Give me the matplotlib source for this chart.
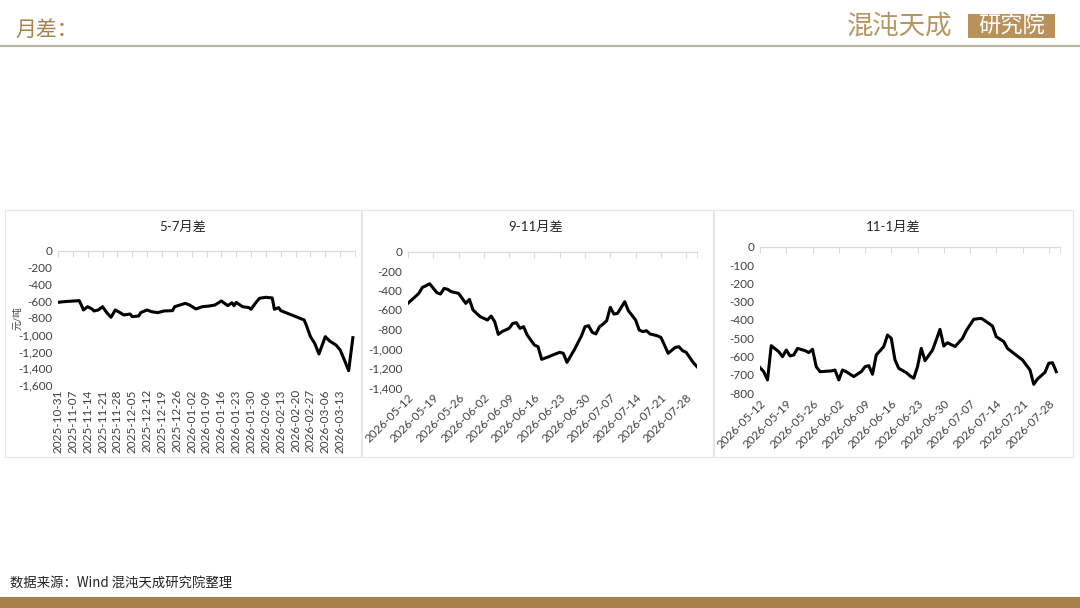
import matplotlib
matplotlib.use("Agg")
import matplotlib.pyplot as plt
import matplotlib.dates as mdates
from matplotlib.patches import Rectangle
from matplotlib.ticker import FuncFormatter, FixedLocator
import pandas as pd

plt.rcParams['font.family'] = ['Lato', 'Noto Sans CJK SC', 'DejaVu Sans']

# 5-7月差 (元/吨)
dates_57 = ['2025-10-31', '2025-11-03', '2025-11-07', '2025-11-10', '2025-11-11', '2025-11-12',
            '2025-11-14', '2025-11-16', '2025-11-17', '2025-11-19', '2025-11-21', '2025-11-23',
            '2025-11-25', '2025-11-27', '2025-11-29', '2025-12-01', '2025-12-04', '2025-12-05',
            '2025-12-08', '2025-12-09', '2025-12-12', '2025-12-14', '2025-12-17', '2025-12-20',
            '2025-12-24', '2025-12-25', '2025-12-27', '2025-12-30', '2026-01-01', '2026-01-04',
            '2026-01-07', '2026-01-10', '2026-01-13', '2026-01-16', '2026-01-19', '2026-01-21',
            '2026-01-22', '2026-01-23', '2026-01-26', '2026-01-29', '2026-01-30', '2026-02-01',
            '2026-02-03', '2026-02-06', '2026-02-09', '2026-02-10', '2026-02-12', '2026-02-13',
            '2026-02-24', '2026-02-25', '2026-02-27', '2026-03-01', '2026-03-03', '2026-03-06',
            '2026-03-08', '2026-03-11', '2026-03-13', '2026-03-15', '2026-03-17', '2026-03-19']
values_57 = [-615, -607, -600, -595, -647, -706, -667, -694, -718, -706, -667, -738,
             -793, -706, -734, -766, -754, -786, -778, -738, -706, -726, -738, -718,
             -714, -667, -651, -627, -647, -694, -667, -660, -647, -599, -655, -620,
             -655, -616, -667, -678, -698, -627, -567, -555, -563, -698, -678, -714,
             -825, -884, -1024, -1103, -1230, -1024, -1075, -1123, -1182, -1302, -1429, -1036]

# 9-11月差
dates_911 = ['2026-05-12', '2026-05-14', '2026-05-15', '2026-05-16', '2026-05-17', '2026-05-18',
             '2026-05-20', '2026-05-21', '2026-05-22', '2026-05-23', '2026-05-24', '2026-05-26',
             '2026-05-27', '2026-05-28', '2026-05-29', '2026-05-30', '2026-05-31', '2026-06-01',
             '2026-06-03', '2026-06-04', '2026-06-05', '2026-06-06', '2026-06-07', '2026-06-09',
             '2026-06-10', '2026-06-11', '2026-06-12', '2026-06-13', '2026-06-14', '2026-06-16',
             '2026-06-17', '2026-06-18', '2026-06-20', '2026-06-21', '2026-06-23', '2026-06-24',
             '2026-06-25', '2026-06-27', '2026-06-29', '2026-06-30', '2026-07-01', '2026-07-02',
             '2026-07-03', '2026-07-04', '2026-07-05', '2026-07-06', '2026-07-07', '2026-07-08',
             '2026-07-09', '2026-07-11', '2026-07-12', '2026-07-14', '2026-07-15', '2026-07-16',
             '2026-07-17', '2026-07-18', '2026-07-20', '2026-07-21', '2026-07-22', '2026-07-23',
             '2026-07-25', '2026-07-26', '2026-07-27', '2026-07-28', '2026-07-30', '2026-07-31']
values_911 = [-530, -463, -429, -367, -350, -330, -422, -436, -377, -388, -412, -429,
              -480, -532, -491, -600, -635, -669, -703, -662, -720, -851, -823, -789,
              -738, -731, -789, -772, -858, -961, -978, -1108, -1081, -1064, -1036, -1046,
              -1139, -1012, -868, -772, -762, -830, -847, -772, -745, -710, -573, -642,
              -635, -515, -607, -703, -806, -823, -813, -847, -865, -882, -961, -1046,
              -985, -978, -1019, -1036, -1143, -1184]

# 11-1月差
dates_111 = ['2026-05-12', '2026-05-13', '2026-05-14', '2026-05-15', '2026-05-17', '2026-05-18',
             '2026-05-19', '2026-05-20', '2026-05-21', '2026-05-22', '2026-05-24', '2026-05-25',
             '2026-05-26', '2026-05-27', '2026-05-28', '2026-05-31', '2026-06-01', '2026-06-02',
             '2026-06-03', '2026-06-04', '2026-06-06', '2026-06-07', '2026-06-08', '2026-06-09',
             '2026-06-10', '2026-06-11', '2026-06-12', '2026-06-14', '2026-06-15', '2026-06-16',
             '2026-06-17', '2026-06-18', '2026-06-20', '2026-06-21', '2026-06-22', '2026-06-23',
             '2026-06-24', '2026-06-25', '2026-06-27', '2026-06-28', '2026-06-29', '2026-06-30',
             '2026-07-01', '2026-07-03', '2026-07-05', '2026-07-06', '2026-07-08', '2026-07-10',
             '2026-07-11', '2026-07-13', '2026-07-14', '2026-07-16', '2026-07-17', '2026-07-19',
             '2026-07-21', '2026-07-23', '2026-07-24', '2026-07-25', '2026-07-27', '2026-07-28',
             '2026-07-29', '2026-07-30']
values_111 = [-660, -682, -727, -540, -573, -600, -564, -596, -591, -555, -567, -578,
              -560, -655, -682, -678, -673, -727, -673, -682, -709, -695, -682, -655,
              -649, -696, -591, -545, -482, -500, -618, -664, -687, -705, -718, -655,
              -555, -622, -564, -509, -451, -542, -524, -545, -500, -458, -396, -391,
              -404, -433, -491, -518, -555, -587, -618, -673, -751, -722, -685, -636,
              -633, -682]

W, H = 1080, 608
GOLD = '#a8804a'
TICK_GRAY = '#d9d9d9'
LABEL_GRAY = '#404040'


def frac(left, right, top, bottom):
    return [left / W, 1 - bottom / H, (right - left) / W, (bottom - top) / H]


def draw_panel(fig, rect, dates, values, x0, x1, ymin, ystep, rot):
    ax = fig.add_axes(rect, zorder=2)
    x = pd.to_datetime(dates)
    ax.plot(x, values, color='black', lw=2.2, solid_joinstyle='round')
    ax.set_ylim(ymin, 0)
    ax.set_yticks(list(range(ymin, 1, ystep)))
    ax.yaxis.set_major_formatter(FuncFormatter(lambda v, p: f"{v:,.0f}"))
    ax.set_xlim(pd.Timestamp(x0), pd.Timestamp(x1))
    ticks = pd.date_range(x0, x1, freq='7D')
    ticks = ticks[ticks < pd.Timestamp(x1)]
    ax.xaxis.set_major_locator(FixedLocator(mdates.date2num(ticks)))
    ax.xaxis.set_minor_locator(FixedLocator([mdates.date2num(pd.Timestamp(x1))]))
    ax.xaxis.set_major_formatter(mdates.DateFormatter('%Y-%m-%d'))
    for s in ['left', 'right', 'bottom']:
        ax.spines[s].set_visible(False)
    ax.spines['top'].set_color(TICK_GRAY)
    ax.spines['top'].set_linewidth(0.9)
    ax.tick_params(axis='y', length=0, labelsize=8.5, labelcolor=LABEL_GRAY, pad=4)
    ax.tick_params(axis='x', which='both', bottom=False, top=True, labelbottom=True,
                   labeltop=False, direction='in', length=4, color=TICK_GRAY,
                   labelsize=8.5, labelcolor=LABEL_GRAY, pad=3)
    if rot == 90:
        plt.setp(ax.get_xticklabels(), rotation=90, ha='center', va='top')
    else:
        plt.setp(ax.get_xticklabels(), rotation=45, ha='right', va='top', rotation_mode='anchor')
    ax.set_facecolor('none')
    return ax


fig = plt.figure(figsize=(W / 100, H / 100), dpi=100)

# header
fig.text(15 / W, 1 - 30 / H, '月差：', fontsize=15, color=GOLD, va='center', ha='left',
         family=['Noto Sans CJK SC'])
fig.text(847 / W, 1 - 26 / H, '混沌天成', fontsize=19, color='#b8945e', va='center', ha='left',
         family=['Noto Sans CJK SC'], fontweight='light')
fig.patches.append(Rectangle((968 / W, 1 - 38 / H), 87 / W, 24 / H, transform=fig.transFigure,
                             facecolor='#b8925a', edgecolor='none', zorder=0))
fig.text(1011.5 / W, 1 - 26 / H, '研究院', fontsize=16, color='white', va='center', ha='center',
         family=['Noto Sans CJK SC'], fontweight='light')
fig.add_artist(plt.Line2D([0, 1], [1 - 46 / H, 1 - 46 / H], transform=fig.transFigure,
                          color='#bdb3a3', lw=1.6))

# bottom bar and source
fig.patches.append(Rectangle((0, 0), 1, 11 / H, transform=fig.transFigure,
                             facecolor=GOLD, edgecolor='none', zorder=0))
fig.text(10 / W, 1 - 584 / H, '数据来源：Wind 混沌天成研究院整理', fontsize=9.6, color='#222222',
         va='center', ha='left', family=['Noto Sans CJK SC', 'Lato'])

# panel boxes
for (l, r) in [(5, 361), (362, 713), (714, 1073)]:
    fig.patches.append(Rectangle((l / W, 1 - 457 / H), (r - l) / W, (457 - 210) / H,
                                 transform=fig.transFigure, facecolor='white',
                                 edgecolor='#e6e6e6', lw=0.8, zorder=-1))

ax1 = draw_panel(fig, frac(58, 355, 250.7, 385), dates_57, values_57,
                 '2025-10-31', '2026-03-20', -1600, 200, 90)
ax2 = draw_panel(fig, frac(408, 697, 251.7, 387.7), dates_911, values_911,
                 '2026-05-12', '2026-07-31', -1400, 200, 45)
ax3 = draw_panel(fig, frac(760, 1060, 246.7, 393.3), dates_111, values_111,
                 '2026-05-12', '2026-07-31', -800, 100, 45)

fig.text(183 / W, 1 - 227 / H, '5-7月差', fontsize=9.5, color='#262626', ha='center', va='center')
fig.text(536 / W, 1 - 227 / H, '9-11月差', fontsize=9.5, color='#262626', ha='center', va='center')
fig.text(893 / W, 1 - 227 / H, '11-1月差', fontsize=9.5, color='#262626', ha='center', va='center')
fig.text(18 / W, 1 - 318 / H, '元/吨', fontsize=7, color=LABEL_GRAY, rotation=90,
         ha='center', va='center')

fig.savefig('out.png', dpi=100)
